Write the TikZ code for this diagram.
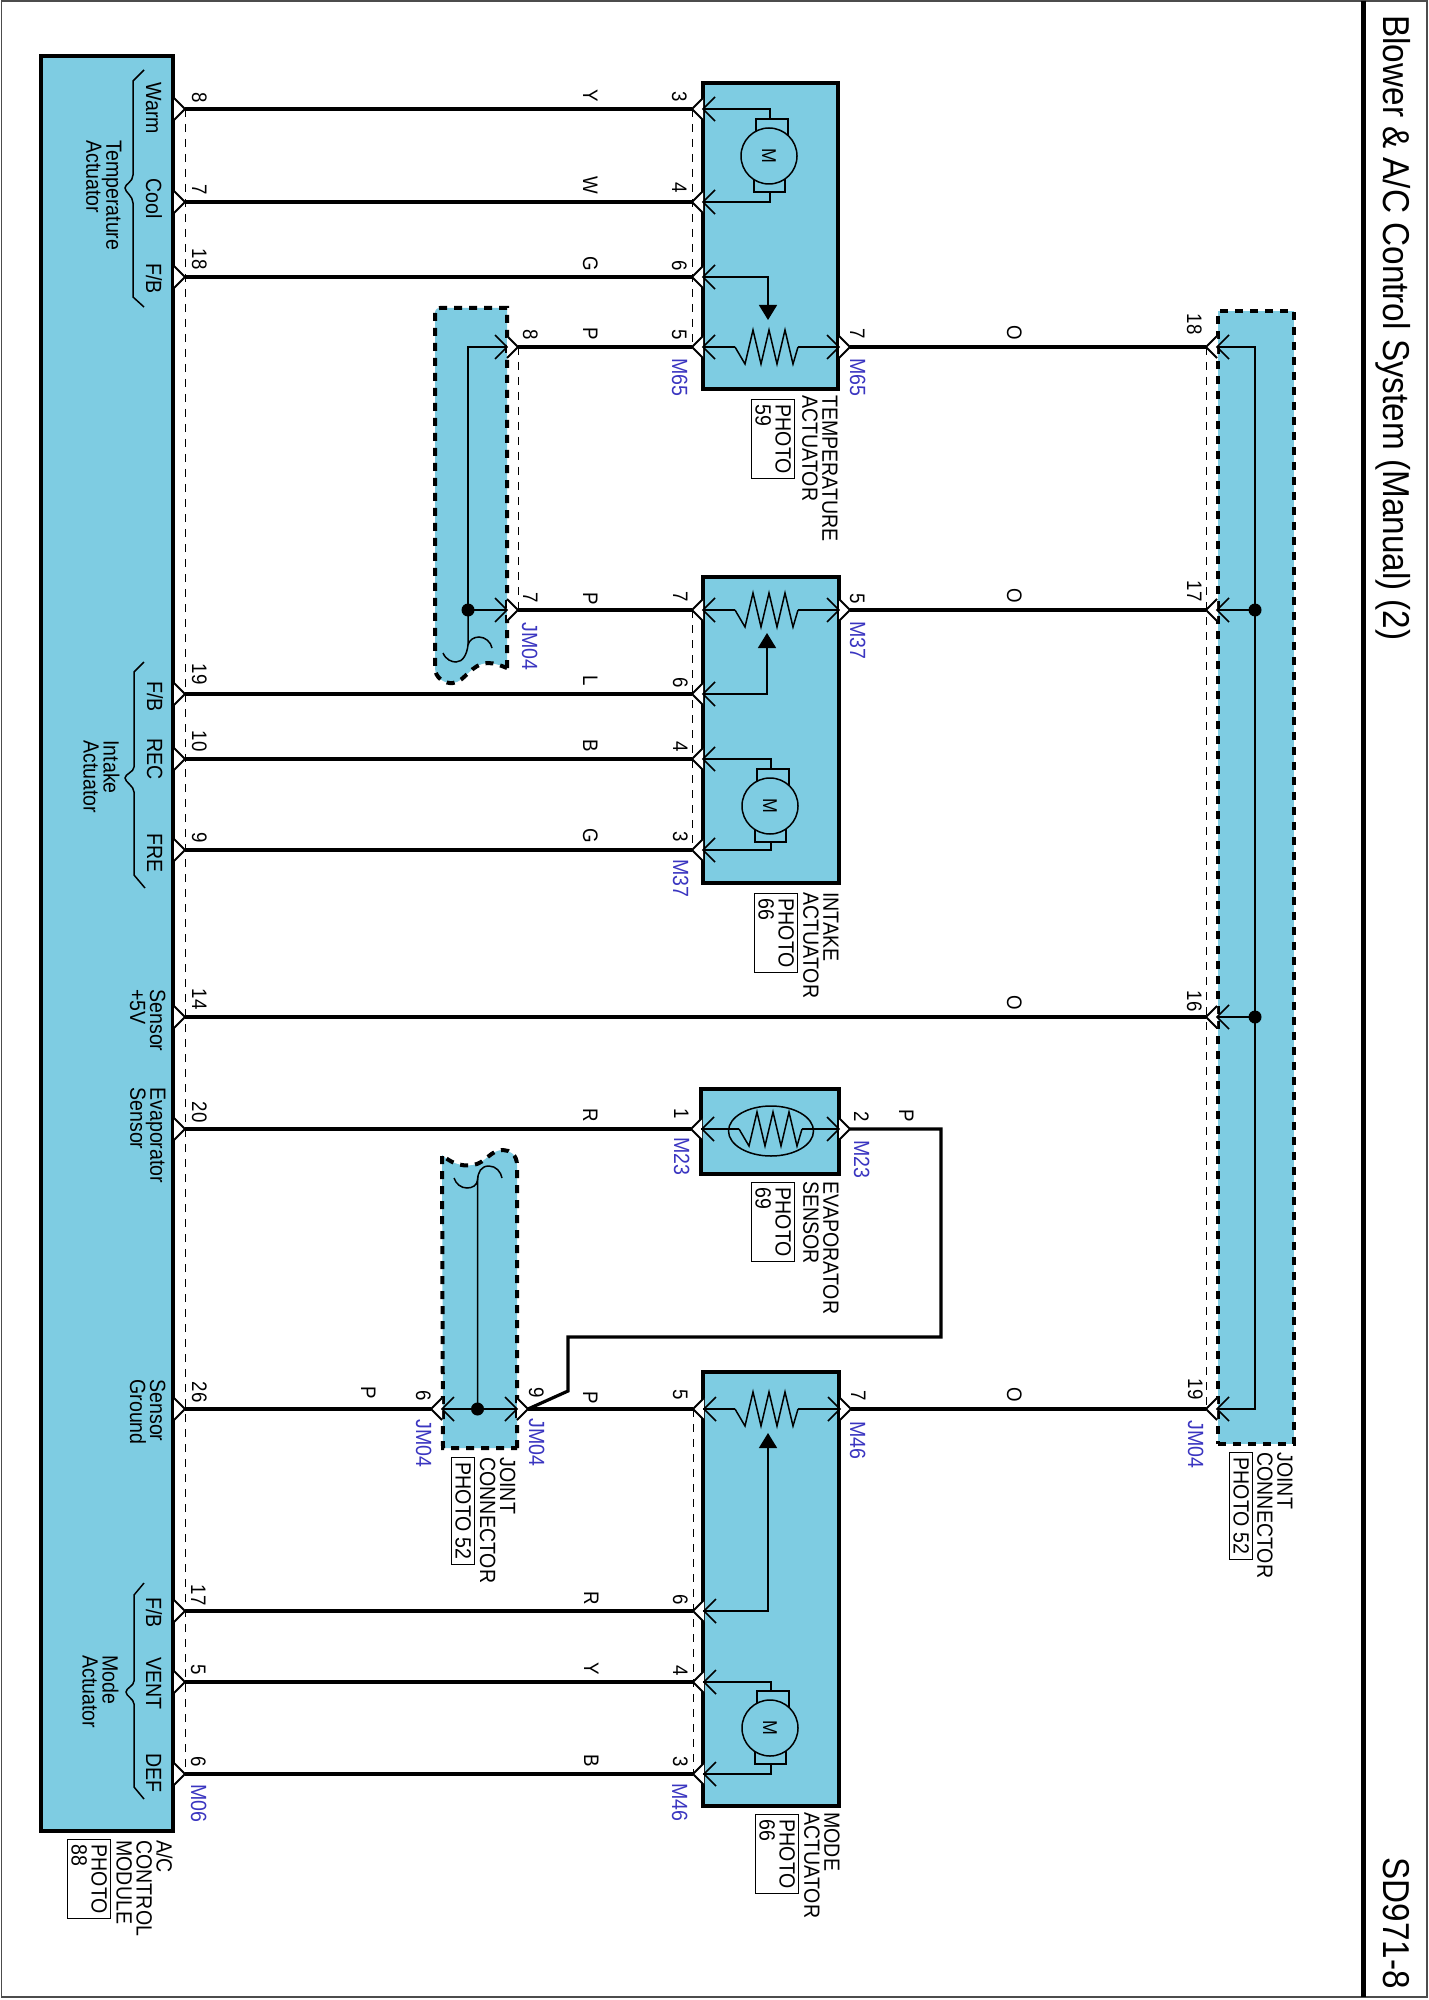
\documentclass[tikz,border=0pt]{standalone}
\usepackage{fontspec}
\setmainfont[FakeStretch=0.89]{Liberation Sans}
\usetikzlibrary{arrows.meta,shapes.geometric}
\definecolor{compblue}{HTML}{7ECCE2}
\definecolor{pinblue}{HTML}{3A35C0}
\newcommand{\labelfont}{\fontsize{11}{10}\selectfont\lineskiplimit=-5pt\relax}
\newcommand{\pinfont}{\fontsize{10.5}{10}\selectfont}
\tikzset{
  comp/.style={draw, line width=2pt, fill=compblue, inner sep=0pt, outer sep=0pt, anchor=north west},
  joint/.style={draw, line width=2pt, fill=compblue, dash pattern=on 4pt off 3.5pt},
  wire/.style={line width=1.6pt},
  lead/.style={line width=.75pt},
  pindash/.style={line width=.5pt, dash pattern=on 4pt off 3.5pt},
  jdot/.style={circle, fill=black, minimum size=6.5pt, inner sep=0pt},
  txt/.style={rotate=-90, inner sep=0pt, font=\labelfont},
  tagend/.style={txt, anchor=base east, font=\pinfont},
  tagstart/.style={txt, anchor=base west},
  pintag/.style={txt, anchor=base west, font=\labelfont, text=pinblue},
  block/.style={txt, anchor=north west, align=left},
  photo/.style={block, draw, line width=.6pt, inner xsep=2.5pt, inner ysep=1.75pt},
  pinopen/.pic={
    \fill[white] (11,-11) -- (0,0) -- (11,11) -- cycle;
    \draw[line width=1pt] (11,-11) -- (0,0) -- (11,11);
  },
  pinfull/.pic={
    \fill[white] (11,-11) -- (0,0) -- (11,11) -- cycle;
    \draw[line width=1pt] (11,-11) -- (0,0) -- (11,11);
    \draw[line width=.8pt] (23,-12) -- (11,0) -- (23,12);
  },
  resistor/.pic={
    \coordinate (-a) at (-32,0);
    \coordinate (-b) at (31,0);
    \draw[lead] (-32,0) -- (-22,17) -- (-14,-17) -- (-6,17) -- (2,-17)
      -- (10,17) -- (18,-17) -- (26,17) -- (31,0);
  },
  motor/.pic={
    \coordinate (-a) at (1,-37);
    \coordinate (-b) at (1,36);
    \draw[lead] (-13,-37) rectangle (19,-20);
    \draw[lead] (-15,20) rectangle (16,36);
    \draw[lead, fill=compblue] (0,0) circle [radius=28];
    \node[txt, font=\fontsize{10}{10}\selectfont] (-m) at (0,0) {M};
  },
}
\begin{document}
\begin{tikzpicture}[x=.5pt, y=-.5pt]
  \useasboundingbox (0,0) rectangle (1428,2000);
  \draw[line width=.6pt, black!70] (1.5,1) rectangle (1427,1997);
  \coordinate (divtop) at (1363,1);
  \coordinate (divbot) at (1363,1997);
  \draw[line width=2.5pt] (divtop) -- (divbot);

  \node[txt, anchor=base west, font=\fontsize{18.7}{20}\selectfont] (title) at (1383,15)
    {Blower \& A/C Control System (Manual) (2)};
  \node[txt, anchor=base west, font=\fontsize{18.7}{20}\selectfont] (sheet) at (1383,1857) {SD971-8};

  % boxes
  \node[comp, minimum width=66pt, minimum height=887.5pt] (acm) at (41,56) {};
  \node[comp, minimum width=67.5pt, minimum height=153pt] (tempact) at (703,83) {};
  \node[comp, minimum width=68pt, minimum height=153pt] (intact) at (703,577) {};
  \node[comp, minimum width=69pt, minimum height=42.5pt] (evap) at (701,1089) {};
  \node[comp, minimum width=68pt, minimum height=217pt] (modeact) at (703,1372) {};
  \node[comp, joint, minimum width=38pt, minimum height=566.5pt] (rjoint) at (1218,311) {};
  \draw[joint] (507,668) -- (507,308) -- (440,308) .. controls (436,308) and (435,310) .. (435,314)
    -- (435,668) .. controls (435,678) and (445,684) .. (453,683)
    .. controls (465,682) and (470,664) .. (488,663) .. controls (495,663) and (502,666) .. (507,668);
  \draw[joint] (517,1448) -- (517,1165) .. controls (517,1155) and (510,1150) .. (503,1150)
    .. controls (490,1150) and (486,1163) .. (473,1165) .. controls (460,1167) and (450,1162) .. (442,1155)
    -- (443,1448) -- cycle;

  % pin positions
  \foreach \nm/\px/\py in {m8/185/109, m7/185/202, m18/185/277, m19/185/694, m10/185/759, m9/185/850,
      m14/185/1017, m20/185/1129, m26/185/1409, m17/185/1611, m5/185/1682, m6/185/1774,
      ta3/692/109, ta4/692/202, ta6/692/277, ta5/692/347, ta7/850/347,
      ia7/692/610, ia6/692/694, ia4/692/759, ia3/692/850, ia5/850/610,
      ev1/691/1129, ev2/850/1129,
      ma5/693/1409, ma6/693/1611, ma4/693/1682, ma3/693/1774, ma7/851/1409,
      uj8/518/347, uj7/518/610, lj6/431/1409, lj9/528/1409,
      rj18/1206/347, rj17/1206/610, rj16/1206/1017, rj19/1206/1409}
    \coordinate (\nm) at (\px,\py);
  \coordinate (ujr8) at (507,347);
  \coordinate (ujr7) at (507,610);
  \coordinate (ljl6) at (443,1409);
  \coordinate (ljr9) at (517,1409);

  \foreach \a/\b in {m8/m6, ta3/ta5, ia7/ia3, ma5/ma3, rj18/rj19, uj8/uj7}
    \draw[pindash] (\a) -- (\b);

  \foreach \a/\b in {m8/ta3, m7/ta4, m18/ta6, uj8/ta5, ta7/rj18, uj7/ia7, ia5/rj17, m19/ia6, m10/ia4, m9/ia3,
      m14/rj16, m20/ev1, m26/lj6, lj9/ma5, ma7/rj19, m17/ma6, m5/ma4, m6/ma3}
    \draw[wire] (\a) -- (\b);
  \draw[wire] (lj9) -- (568,1391) -- (568,1337) -- (941,1337) -- (941,1129) -- (ev2);

  \foreach \p in {m8, m7, m18, m19, m10, m9, m14, m20, m26, m17, m5, m6}
    \pic[xscale=-1] at (\p) {pinopen};
  \foreach \p in {ta3, ta4, ta6, ta5, ia7, ia6, ia4, ia3, ev1, ma5, ma6, ma4, ma3, lj6, rj18, rj17, rj16, rj19}
    \pic at (\p) {pinfull};
  \foreach \p in {ta7, ia5, ev2, ma7, uj8, uj7, lj9}
    \pic[xscale=-1] at (\p) {pinfull};

  % temperature actuator
  \pic (mt) at (769,156) {motor};
  \pic (rt) at (767,347) {resistor};
  \coordinate (wipet) at (768,320);
  \draw[lead] (tempact.west |- ta3) -| (mt-a);
  \draw[lead] (tempact.west |- ta4) -| (mt-b);
  \draw[lead] (tempact.west |- ta5) -- (rt-a) (rt-b) -- (tempact.east |- ta7);
  \draw[lead, -{Triangle[width=9pt,length=7.5pt]}] (tempact.west |- ta6) -| (wipet);

  % intake actuator
  \pic (mi) at (770,806) {motor};
  \pic (ri) at (767,610) {resistor};
  \coordinate (wipei) at (767,633);
  \draw[lead] (intact.west |- ia4) -| (mi-a);
  \draw[lead] (intact.west |- ia3) -| (mi-b);
  \draw[lead] (intact.west |- ia7) -- (ri-a) (ri-b) -- (intact.east |- ia5);
  \draw[lead, -{Triangle[width=9pt,length=7.5pt]}] (intact.west |- ia6) -| (wipei);

  % evaporator sensor
  \pic (re) at (771,1129) {resistor};
  \node[draw, lead, ellipse, minimum width=42.5pt, minimum height=25pt, inner sep=0pt] (evring) at (771,1131) {};
  \draw[lead] (evap.west |- ev1) -- (re-a) (re-b) -- (evap.east |- ev2);

  % mode actuator
  \pic (mm) at (770,1728) {motor};
  \pic (rm) at (767,1409) {resistor};
  \coordinate (wipem) at (768,1433);
  \draw[lead] (modeact.west |- ma4) -| (mm-a);
  \draw[lead] (modeact.west |- ma3) -| (mm-b);
  \draw[lead] (modeact.west |- ma5) -- (rm-a) (rm-b) -- (modeact.east |- ma7);
  \draw[lead, -{Triangle[width=9pt,length=7.5pt]}] (modeact.west |- ma6) -| (wipem);

  % joints
  \node[jdot] (d17) at (1255,610) {};
  \node[jdot] (d16) at (1255,1017) {};
  \node[jdot] (dup) at (468,610) {};
  \node[jdot] (dlo) at (477.5,1409) {};
  \draw[lead] (rjoint.west |- rj18) -| (d17.center) -- (d16.center) |- (rjoint.west |- rj19);
  \draw[lead] (d17.center) -- (rjoint.west |- rj17);
  \draw[lead] (d16.center) -- (rjoint.west |- rj16);
  \draw[lead] (ujr8) -| (dup.center) -- (ujr7);
  \draw[lead] (dup.center) -- (468,645) .. controls (467,654) and (463,662) .. (456,662)
    .. controls (452,662) and (446,660) .. (443,653);
  \draw[lead] (468,645) .. controls (469,640) and (474,637) .. (479,637)
    .. controls (485,637) and (491,642) .. (492,648);
  \draw[lead] (ljl6) -- (ljr9);
  \draw[lead] (dlo.center) -- (477.5,1180) .. controls (477,1185) and (473,1188) .. (467,1188)
    .. controls (461,1188) and (456,1184) .. (454,1178);
  \draw[lead] (477.5,1180) .. controls (478,1172) and (481,1166) .. (489,1166)
    .. controls (496,1166) and (501,1172) .. (502,1178);

  % module braces
  \draw[lead] (144,70) -- (133,81) -- (133,175) .. controls (133,182) and (125,184) .. (125,188)
    .. controls (125,192) and (133,196) .. (133,203) -- (133,297) -- (144,307);
  \draw[lead] (144,662) -- (134,672) -- (134,767) .. controls (134,772) and (125,774) .. (125,778)
    .. controls (125,782) and (134,786) .. (134,792) -- (134,875) -- (145,888);
  \draw[lead] (144,1583) -- (134,1595) -- (134,1681) .. controls (134,1686) and (126,1688) .. (126,1692)
    .. controls (126,1696) and (134,1699) .. (134,1704) -- (134,1787) -- (144,1799);

  % numbers and wire colours
  \foreach \txt/\bx/\ey in {8/192/103, 7/192/195, 18/192/270, 19/192/685, 10/192/752, 9/192/843,
      14/192/1010, 20/192/1123, 26/192/1403, 17/191/1606, 5/191/1675, 6/191/1767,
      3/672/102, 4/672/193, 6/672/271, 5/672/340, 7/673/602, 6/673/688, 4/673/752, 3/673/842,
      1/674/1119, 2/854/1122, 5/673/1400, 6/673/1605, 4/673/1676, 3/673/1767,
      7/850/339, 5/850/604, 7/851/1401, 8/523/340, 7/523/603, 6/416/1401, 9/529/1398,
      18/1187/335, 17/1187/602, 16/1187/1012, 19/1188/1400,
      Y/583/102, W/583/195, G/583/271, P/583/340, P/583/605, L/583/686, B/583/752, G/583/843,
      O/1007/340, O/1007/603, O/1007/1010, O/1007/1402, R/583/1122, P/583/1404, P/361/1399,
      P/899/1122, R/584/1605, Y/584/1675, B/584/1767}
    \node[tagend] (no\bx-\ey) at (\bx,\ey) {\txt};
  \foreach \txt/\bx/\sy in {M65/672/358, M65/850/358, JM04/522/622, M37/850/621, M37/673/859,
      M23/674/1137, M23/854/1140, JM04/416/1419, JM04/529/1418, M46/850/1421, M46/672/1783,
      M06/191/1784, JM04/1188/1420}
    \node[pintag] (con\bx-\sy) at (\bx,\sy) {\txt};
  \foreach \txt/\bx/\sy in {Warm/146/82, Cool/146/178, {F/B}/146/263, {F/B}/147/681, REC/147/738,
      FRE/147/833, {F/B}/146/1597, VENT/146/1657, DEF/146/1753}
    \node[tagstart] (fn\bx-\sy) at (\bx,\sy) {\txt};

  % names
  \foreach \txt/\cx/\sy in {Temperature\\Actuator/122/140, Intake\\Actuator/120/740, Sensor\\+5V/166/989,
      Evaporator\\Sensor/166/1087, Sensor\\Ground/166/1379, Mode\\Actuator/119/1655,
      {A/C\\CONTROL\\MODULE}/173/1840, TEMPERATURE\\ACTUATOR/838/395, INTAKE\\ACTUATOR/839/892,
      EVAPORATOR\\SENSOR/839/1181, MODE\\ACTUATOR/840/1812, JOINT\\CONNECTOR/516/1457,
      JOINT\\CONNECTOR/1293/1452}
    \node[block] (nm\cx-\sy) at (\cx,\sy) {\txt};
  \foreach \txt/\cx/\sy in {PHOTO\\88/111/1839, PHOTO\\59/795/399, PHOTO\\66/798/893, PHOTO\\69/795/1182,
      PHOTO\\66/799/1814, PHOTO 52/475/1457, PHOTO 52/1253/1452}
    \node[photo] (ph\cx-\sy) at (\cx,\sy) {\txt};
\end{tikzpicture}
\end{document}
